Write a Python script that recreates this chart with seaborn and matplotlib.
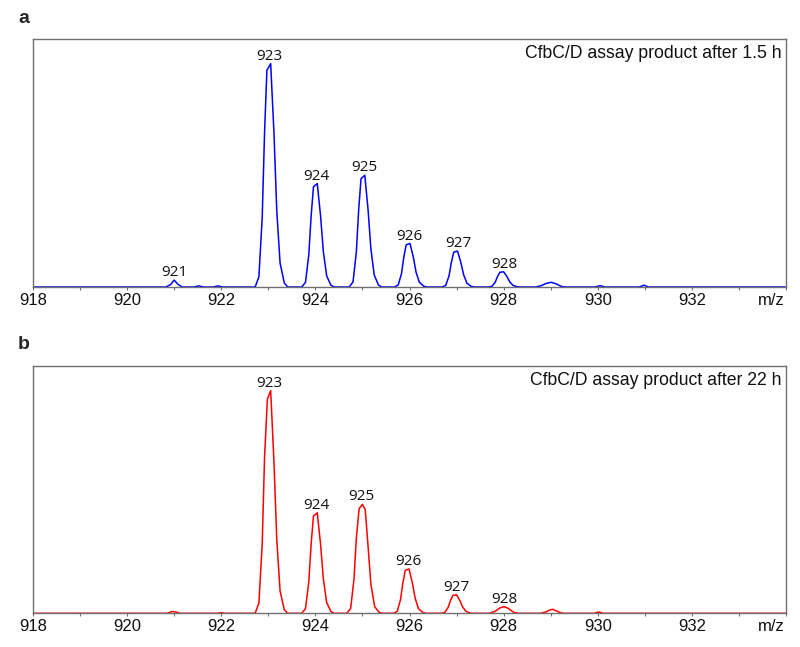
import numpy as np
import pandas as pd
import matplotlib
matplotlib.use("Agg")
import matplotlib.pyplot as plt
import seaborn as sns

# profile vertices (m/z, intensity relative to the 923 peak)
mz_a = [918.00,
        920.82, 920.92, 921.00, 921.08, 921.17,
        921.42, 921.52, 921.62,
        921.83, 921.93, 922.03,
        922.72, 922.80, 922.87, 922.92, 922.97, 923.05, 923.12, 923.18, 923.25, 923.34, 923.41,
        923.71, 923.79, 923.86, 923.91, 923.96, 924.04, 924.11, 924.17, 924.24, 924.33, 924.40,
        924.72, 924.80, 924.87, 924.92, 924.97, 925.05, 925.12, 925.18, 925.25, 925.34, 925.41,
        925.68, 925.76, 925.83, 925.88, 925.93, 926.01, 926.08, 926.14, 926.21, 926.30, 926.37,
        926.69, 926.77, 926.84, 926.89, 926.94, 927.02, 927.09, 927.15, 927.22, 927.31, 927.38,
        927.67, 927.75, 927.82, 927.87, 927.92, 928.00, 928.07, 928.13, 928.20, 928.29, 928.36,
        928.68, 928.80, 928.90, 929.01, 929.12, 929.22, 929.30,
        929.95, 930.05, 930.15,
        930.88, 930.98, 931.08,
        934.00]
rel_a = [0,
         0, 1.0, 3.1, 1.2, 0,
         0, 0.5, 0,
         0, 0.5, 0,
         0, 4.6, 31, 69, 97, 100, 69, 34, 10.7, 1.8, 0,
         0, 2.1, 14.4, 31.9, 44.9, 46.3, 31.9, 15.7, 5.0, 0.8, 0,
         0, 2.3, 15.5, 34.5, 48.5, 50.0, 34.5, 17.0, 5.4, 0.9, 0,
         0, 0.9, 6.0, 13.5, 18.9, 19.5, 13.5, 6.6, 2.1, 0.4, 0,
         0, 0.7, 5.0, 11.1, 15.6, 16.1, 11.1, 5.5, 1.7, 0.3, 0,
         0, 0.3, 2.1, 4.7, 6.6, 6.8, 4.7, 2.3, 0.7, 0.1, 0,
         0, 0.6, 1.6, 2.1, 1.4, 0.3, 0,
         0, 0.6, 0,
         0, 0.8, 0,
         0]

mz_b = [918.00,
        920.85, 920.95, 921.05, 921.12,
        921.92, 922.00, 922.08,
        922.72, 922.80, 922.87, 922.92, 922.98, 923.05, 923.12, 923.18, 923.25, 923.34, 923.41,
        923.71, 923.79, 923.86, 923.91, 923.96, 924.04, 924.11, 924.17, 924.24, 924.33, 924.40,
        924.67, 924.75, 924.82, 924.87, 924.93, 925.00, 925.06, 925.12, 925.18, 925.26, 925.35, 925.42,
        925.66, 925.74, 925.81, 925.86, 925.91, 925.99, 926.06, 926.12, 926.19, 926.28, 926.35,
        926.67, 926.75, 926.82, 926.87, 926.92, 927.00, 927.07, 927.13, 927.20, 927.29, 927.36,
        927.70, 927.82, 927.92, 928.01, 928.10, 928.20, 928.30,
        928.78, 928.90, 928.97, 929.04, 929.12, 929.20, 929.28,
        929.92, 930.02, 930.12,
        934.00]
rel_b = [0,
         0, 0.8, 0.5, 0,
         0, 0.3, 0,
         0, 4.6, 31, 70, 96, 100, 68, 33, 10, 1.6, 0,
         0, 2.1, 14.0, 31.1, 43.7, 45.1, 31.1, 15.3, 4.8, 0.8, 0,
         0, 2.2, 15.2, 33.7, 47.0, 48.9, 46.5, 30.0, 13.0, 3.0, 0.5, 0,
         0, 0.9, 6.2, 13.7, 19.3, 19.9, 13.7, 6.8, 2.1, 0.4, 0,
         0, 0.4, 2.6, 5.7, 8.0, 8.3, 5.7, 2.8, 0.9, 0.1, 0,
         0, 0.9, 2.4, 3.0, 2.2, 0.6, 0,
         0, 0.6, 1.4, 1.8, 1.1, 0.3, 0,
         0, 0.6, 0,
         0]

# peak labels: text, label x, apex height
labels_a = ["921", "923", "924", "925", "926", "927", "928"]
label_x_a = [921.00, 923.03, 924.02, 925.05, 926.00, 927.03, 928.02]
label_y_a = [3.1, 100, 46.3, 50.0, 19.5, 16.1, 6.8]

labels_b = ["923", "924", "925", "926", "927", "928"]
label_x_b = [923.03, 924.02, 924.98, 925.98, 927.00, 928.01]
label_y_b = [100, 45.1, 48.9, 19.9, 8.3, 3.0]

titles = ["CfbC/D assay product after 1.5 h", "CfbC/D assay product after 22 h"]
panel_letters = ["a", "b"]
x_ticks = list(range(918, 935))
x_ticklabels = [str(t) if (t % 2 == 0 and t < 934) else "" for t in x_ticks]

sns.set_theme(style="white")
plt.rcParams["font.family"] = ["Liberation Sans", "DejaVu Sans"]

fig = plt.figure(figsize=(8.0, 6.47), dpi=100)
ax_a = fig.add_axes([0.04125, 0.5564, 0.94125, 0.3833])
ax_b = fig.add_axes([0.04125, 0.0521, 0.94125, 0.3822])

panels = [
    (ax_a, mz_a, rel_a, "#0000ff", labels_a, label_x_a, label_y_a),
    (ax_b, mz_b, rel_b, "#ff0000", labels_b, label_x_b, label_y_b),
]

for i, (ax, mz, rel, color, labs, lx, ly) in enumerate(panels):
    df = pd.DataFrame({"mz": mz, "intensity": rel})
    sns.lineplot(data=df, x="mz", y="intensity", ax=ax, color=color,
                 linewidth=1.1, estimator=None, sort=False)

    ax.set_xlim(918, 934)
    ax.set_ylim(0, 111)
    ax.set_xticks(x_ticks)
    ax.set_xticklabels(x_ticklabels)
    ax.set_yticks([])
    ax.set_xlabel("")
    ax.set_ylabel("")
    ax.tick_params(axis="x", direction="out", length=2.2, width=0.8,
                   color="#707070", pad=1.8, labelsize=12, labelcolor="#111111",
                   bottom=True)
    for sp in ax.spines.values():
        sp.set_color("#707070")
        sp.set_linewidth(1.0)

    for t, x, y in zip(labs, lx, ly):
        ax.annotate(t, xy=(x, y), xytext=(0, 2.8), textcoords="offset points",
                    ha="center", va="baseline", fontsize=11,
                    family=["Open Sans", "DejaVu Sans"], color="#111111")

    ax.annotate(titles[i], xy=(1, 1), xycoords="axes fraction",
                xytext=(-3, -4), textcoords="offset points",
                ha="right", va="top", fontsize=12.7, color="#111111")
    ax.annotate("m/z", xy=(1, 0), xycoords="axes fraction",
                xytext=(-1, -4.0), textcoords="offset points",
                ha="right", va="top", fontsize=12, color="#111111")

fig.text(18 / 800, 1 - 23 / 647, panel_letters[0], fontsize=14, weight="bold",
         va="baseline", ha="left")
fig.text(18 / 800, 1 - 349 / 647, panel_letters[1], fontsize=14, weight="bold",
         va="baseline", ha="left")

fig.savefig("out.png", dpi=100)
plt.close(fig)
